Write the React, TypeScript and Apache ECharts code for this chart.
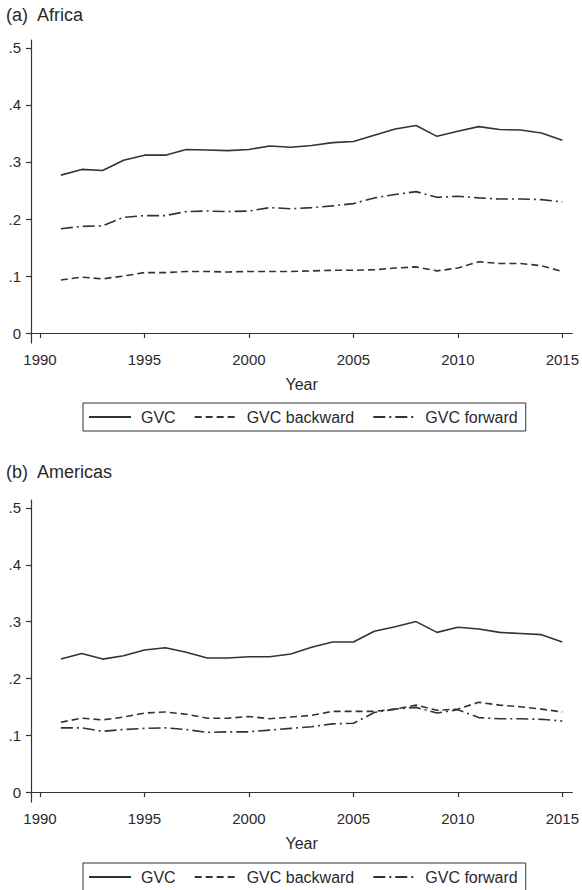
import React, { useEffect, useRef } from "react";
import * as echarts from "echarts";

const years = [1991, 1992, 1993, 1994, 1995, 1996, 1997, 1998, 1999, 2000, 2001, 2002, 2003, 2004, 2005, 2006, 2007, 2008, 2009, 2010, 2011, 2012, 2013, 2014, 2015];

const africaGVC = [0.277, 0.287, 0.285, 0.303, 0.312, 0.312, 0.322, 0.321, 0.320, 0.322, 0.328, 0.326, 0.329, 0.334, 0.336, 0.347, 0.358, 0.364, 0.345, 0.354, 0.362, 0.357, 0.356, 0.351, 0.338];
const africaBackward = [0.093, 0.098, 0.095, 0.100, 0.106, 0.106, 0.108, 0.108, 0.107, 0.108, 0.108, 0.108, 0.109, 0.110, 0.110, 0.111, 0.114, 0.116, 0.109, 0.114, 0.125, 0.122, 0.122, 0.118, 0.108];
const africaForward = [0.183, 0.187, 0.188, 0.203, 0.206, 0.206, 0.213, 0.214, 0.213, 0.214, 0.220, 0.218, 0.220, 0.223, 0.227, 0.237, 0.243, 0.248, 0.238, 0.240, 0.237, 0.235, 0.235, 0.234, 0.230];

const americasGVC = [0.234, 0.244, 0.234, 0.240, 0.250, 0.254, 0.246, 0.236, 0.236, 0.238, 0.238, 0.243, 0.255, 0.264, 0.264, 0.283, 0.291, 0.300, 0.281, 0.290, 0.287, 0.281, 0.279, 0.277, 0.264];
const americasBackward = [0.123, 0.130, 0.127, 0.132, 0.139, 0.141, 0.137, 0.130, 0.130, 0.133, 0.129, 0.132, 0.135, 0.142, 0.142, 0.142, 0.146, 0.153, 0.144, 0.146, 0.158, 0.153, 0.150, 0.146, 0.141];
const americasForward = [0.113, 0.113, 0.107, 0.110, 0.112, 0.113, 0.110, 0.105, 0.106, 0.106, 0.109, 0.112, 0.115, 0.120, 0.121, 0.140, 0.146, 0.149, 0.139, 0.145, 0.131, 0.129, 0.129, 0.128, 0.125];

const xTicks = [1990, 1995, 2000, 2005, 2010, 2015];
const yTicks = [0, 0.1, 0.2, 0.3, 0.4, 0.5];
const seriesNames = ["GVC", "GVC backward", "GVC forward"];
const panelTitles = ["(a)  Africa", "(b)  Americas"];

const FONT = "Liberation Sans, Arial, Helvetica, sans-serif";
const INK = "#2a2a2a";
const LINE = "#333333";

const dashTypes: any[] = ["solid", [7, 4], [12, 4, 2, 4]];

export default function App() {
  const ref = useRef<HTMLDivElement>(null);

  useEffect(() => {
    if (!ref.current) return;
    const chart = echarts.init(ref.current, undefined, { renderer: "svg" });

    const pair = (vals: number[]) => years.map((y, i) => [y, vals[i]]);
    const panels = [
      [africaGVC, africaBackward, africaForward],
      [americasGVC, americasBackward, americasForward],
    ];

    const xAxisBase = {
      type: "value",
      min: 1989.57,
      max: 2015.48,
      name: "Year",
      nameLocation: "middle",
      nameGap: 33,
      nameTextStyle: { fontSize: 16, color: INK, fontFamily: FONT },
      axisLine: { show: true, lineStyle: { color: LINE, width: 1.2 } },
      axisTick: { show: true, length: 5, customValues: xTicks, lineStyle: { color: LINE, width: 1.2 } },
      axisLabel: {
        customValues: xTicks,
        fontSize: 15,
        color: INK,
        margin: 9,
        fontFamily: FONT,
        formatter: (v: number) => String(Math.round(v)),
      },
      splitLine: { show: false },
    };
    const yAxisBase = {
      type: "value",
      min: -0.0175,
      max: 0.514,
      axisLine: { show: true, lineStyle: { color: LINE, width: 1.2 } },
      axisTick: { show: true, length: 5, customValues: yTicks, lineStyle: { color: LINE, width: 1.2 } },
      axisLabel: {
        customValues: yTicks,
        fontSize: 15,
        color: INK,
        margin: 10,
        fontFamily: FONT,
        formatter: (v: number) => (Math.abs(v) < 1e-9 ? "0" : "." + Math.round(v * 10)),
      },
      splitLine: { show: false },
    };

    const series: any[] = [];
    panels.forEach((p, gi) => {
      p.forEach((vals, si) => {
        series.push({
          name: seriesNames[si],
          type: "line",
          xAxisIndex: gi,
          yAxisIndex: gi,
          data: pair(vals),
          symbol: "none",
          smooth: false,
          lineStyle: { color: LINE, width: 1.6, type: dashTypes[si] },
          itemStyle: { color: LINE },
        });
      });
    });

    const legendBase = {
      left: 83,
      orient: "horizontal",
      data: seriesNames,
      selectedMode: false,
      borderColor: LINE,
      borderWidth: 1,
      padding: [6, 8, 6, 5],
      itemWidth: 42,
      itemHeight: 14,
      itemGap: 18,
      itemStyle: { opacity: 0 },
      textStyle: { fontSize: 16, color: INK, fontFamily: FONT, padding: [0, 0, 0, 5] },
    };

    chart.setOption({
      animation: false,
      backgroundColor: "#ffffff",
      textStyle: { fontFamily: FONT },
      title: [
        { text: panelTitles[0], left: 6, top: 6, padding: 0, textStyle: { fontSize: 18, fontWeight: "normal", color: INK, fontFamily: FONT } },
        { text: panelTitles[1], left: 6, top: 463, padding: 0, textStyle: { fontSize: 18, fontWeight: "normal", color: INK, fontFamily: FONT } },
      ],
      grid: [
        { left: 31, top: 40, width: 542, height: 303 },
        { left: 31, top: 500, width: 542, height: 302 },
      ],
      xAxis: [
        { ...xAxisBase, gridIndex: 0 },
        { ...xAxisBase, gridIndex: 1 },
      ],
      yAxis: [
        { ...yAxisBase, gridIndex: 0 },
        { ...yAxisBase, gridIndex: 1 },
      ],
      legend: [
        { ...legendBase, top: 403 },
        { ...legendBase, top: 863 },
      ],
      series,
    });

    return () => chart.dispose();
  }, []);

  return (
    <div
      ref={ref}
      style={{ position: "absolute", left: 0, top: 0, width: 582, height: 890, background: "#fff" }}
    />
  );
}
